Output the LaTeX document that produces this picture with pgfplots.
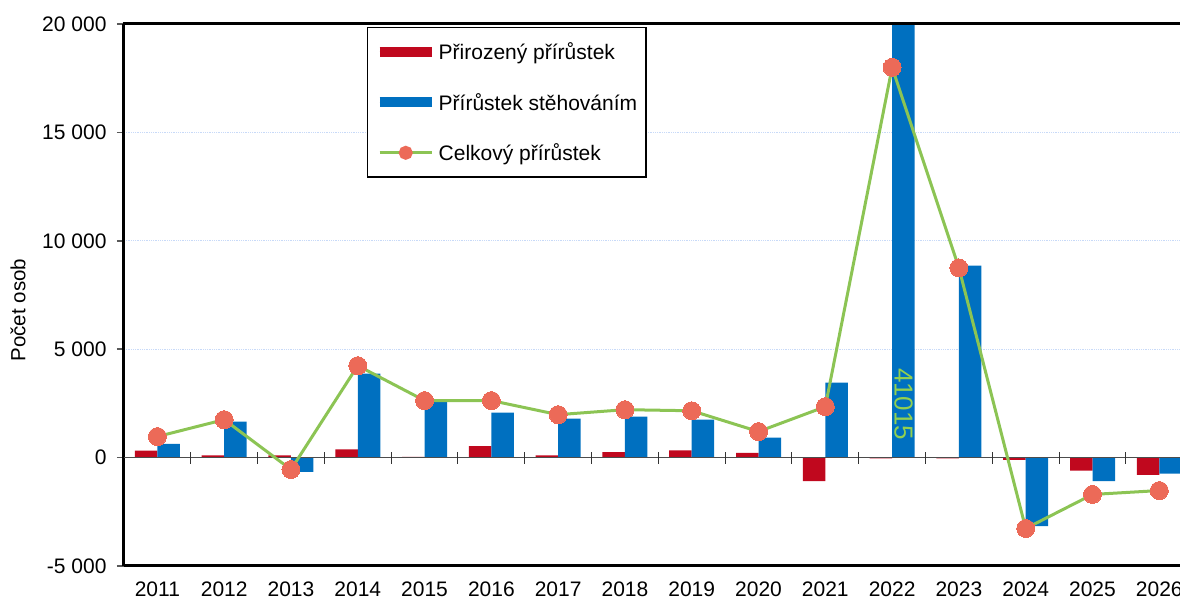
\documentclass[border=0pt]{standalone}
\usepackage{fontspec}
\setmainfont{Liberation Sans}
\usepackage{pgfplots}
\pgfplotsset{compat=1.18}
\definecolor{cred}{RGB}{192,8,30}
\definecolor{cblue}{RGB}{0,112,192}
\definecolor{cgreen}{RGB}{140,196,84}
\definecolor{csalmon}{RGB}{236,106,88}
\definecolor{clabel}{RGB}{146,208,80}
\definecolor{cgrid}{RGB}{200,218,248}
\begin{document}
\begin{tikzpicture}
\begin{axis}[
  name=ax,
  at={(0,0)}, anchor=south west,
  scale only axis,
  width=1056pt, height=542pt,
  xmin=-0.5, xmax=15.31,
  ymin=-5000, ymax=20000,
  axis x line=bottom, axis y line=left,
  x axis line style={-, line width=3pt},
  y axis line style={-, line width=3pt},
  xtick={0,...,15},
  xticklabels={2011,2012,2013,2014,2015,2016,2017,2018,2019,2020,2021,2022,2023,2024,2025,2026},
  x tick style={draw=none},
  ytick={-5000,0,5000,10000,15000,20000},
  scaled y ticks=false,
  y tick style={line width=1.5pt, color=black!65},
  tick align=outside,
  major tick length=7pt,
  ymajorgrids,
  grid style={cgrid, line width=0.8pt, densely dotted},
  /pgf/number format/assume math mode=true,
  /pgf/number format/1000 sep={\ },
  every tick label/.append style={font=\fontsize{21}{24}\selectfont},
  xticklabel style={yshift=-5pt},
  yticklabel style={xshift=-7pt},
  ylabel={Počet osob},
  ylabel style={at={(axis description cs:-0.1004,0.472)}, anchor=center, font=\fontsize{20.5}{24}\selectfont},
  legend style={at={(axis description cs:0.2301,0.9945)}, anchor=north west,
    draw=black, line width=1.5pt, font=\fontsize{21}{24}\selectfont,
    row sep=28pt, inner xsep=7pt, inner ysep=13pt, fill=white},
  legend cell align=left,
]
\addplot[ybar, bar width=22.5pt, bar shift=-11.25pt, fill=cred, draw=none,
  legend image code/.code={\draw[cred, line width=10pt] (0pt,0pt) -- (52pt,0pt);}]
  coordinates {(0,320) (1,100) (2,100) (3,380) (4,30) (5,530) (6,100) (7,250) (8,330) (9,220) (10,-1090) (11,-40) (12,-40) (13,-100) (14,-600) (15,-800)};
\addlegendentry{Přirozený přírůstek}
\addplot[ybar, bar width=22.5pt, bar shift=11.25pt, fill=cblue, draw=none,
  legend image code/.code={\draw[cblue, line width=10pt] (0pt,0pt) -- (52pt,0pt);}]
  coordinates {(0,630) (1,1660) (2,-660) (3,3870) (4,2580) (5,2070) (6,1800) (7,1890) (8,1750) (9,920) (10,3460) (11,41015) (12,8850) (13,-3160) (14,-1090) (15,-740)};
\addlegendentry{Přírůstek stěhováním}
\draw[line width=1.5pt, black!70] (axis cs:-0.5,0) -- (axis cs:15.31,0);
\pgfplotsinvokeforeach{0.5,1.5,2.5,3.5,4.5,5.5,6.5,7.5,8.5,9.5,10.5,11.5,12.5,13.5,14.5}{
  \draw[line width=1pt, black!80] ([yshift=-6pt]axis cs:#1,0) -- ([yshift=6pt]axis cs:#1,0);
}
\node[rotate=-90, text=clabel, font=\fontsize{26}{30}\selectfont, inner sep=0pt] at (axis cs:11.17,2465) {41015};
\addplot[color=cgreen, line width=3pt, mark=*, mark size=9pt, mark options={fill=csalmon, draw=csalmon, line width=0pt},
  legend image code/.code={\draw[cgreen, line width=3pt] (0pt,0pt) -- (52pt,0pt); \fill[csalmon] (26pt,0pt) circle (5.5pt);}]
  coordinates {(0,970) (1,1750) (2,-550) (3,4240) (4,2630) (5,2630) (6,1980) (7,2210) (8,2160) (9,1200) (10,2350) (11,18000) (12,8750) (13,-3270) (14,-1700) (15,-1520)};
\addlegendentry{Celkový přírůstek}
\end{axis}
\draw[line width=3pt] ([xshift=-1.5pt]ax.north west) -- (ax.north east);
\pgfresetboundingbox
\path (-124pt,-35pt) rectangle (1056pt,566pt);
\end{tikzpicture}
\end{document}
